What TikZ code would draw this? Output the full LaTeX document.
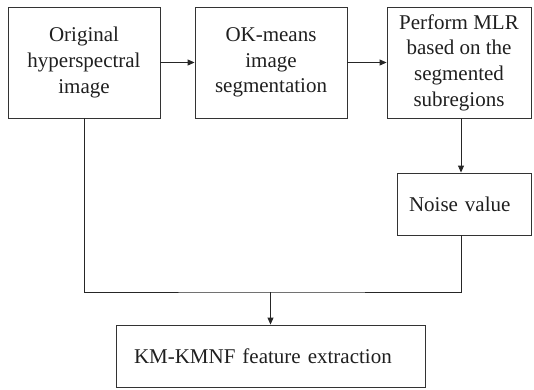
\documentclass[tikz,border=0pt]{standalone}
\usepackage{fontspec}
\setmainfont{Liberation Serif}
\usetikzlibrary{arrows.meta}
\begin{document}
\begin{tikzpicture}[x=1pt,y=-1pt,
  line width=0.9pt,
  every node/.style={font=\fontsize{21}{25.6}\selectfont, text=black!88},
  stepbox/.style={draw=black!80, rectangle, inner sep=0pt, align=center, minimum height=111pt},
  arr/.style={-{Triangle[length=7pt,width=6pt]}, draw=black!85}]
  \useasboundingbox (0,0) rectangle (534,389);
  % processing chain along the top
  \node[stepbox, minimum width=152pt] (orig) at (84,62.5) {Original\\hyperspectral\\image};
  \node[stepbox, minimum width=152pt] (okm)  at (271,62.5) {OK-means\\image\\segmentation};
  \node[stepbox, minimum width=144pt] (mlr)  at (459,62.5) {Perform MLR\\based on the\\segmented\\subregions};
  % noise estimate and final step
  \node[stepbox, minimum height=62pt, text width=110pt, inner xsep=12pt, align=left] (noise) at (464,204) {Noise value};
  \node[stepbox, minimum height=62pt, text width=273pt, inner xsep=18pt, align=left] (feat) at (270.5,356) {KM-KMNF feature extraction};
  % helper coordinates for the wiring
  \coordinate (vr) at (461,0);
  \coordinate (join) at (270.5,292);
  \draw[arr] (orig) -- (okm);
  \draw[arr] (okm) -- (mlr);
  \draw[arr] (mlr.south -| vr) -- (noise.north -| vr);
  \draw[draw=black!85] (orig.south) |- (join) -| (noise.south -| vr);
  \draw[arr] (join) -- (feat.north);
\end{tikzpicture}
\end{document}
